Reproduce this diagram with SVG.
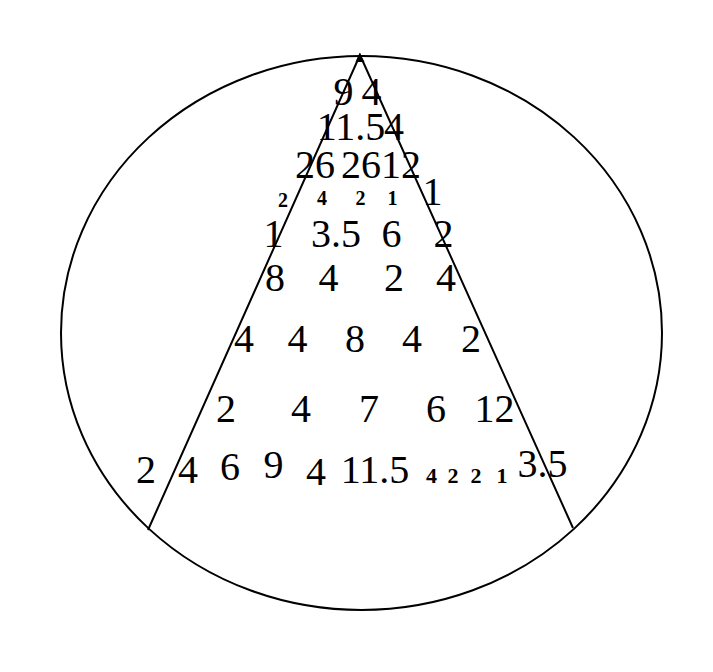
<svg xmlns="http://www.w3.org/2000/svg" width="713" height="672" viewBox="0 0 713 672">
<style>
.ln{fill:none;stroke:#000;stroke-width:2}
text{font-family:"Liberation Serif","Times New Roman",serif;fill:#000;text-anchor:middle}
.b{font-size:40px}
.s{font-size:20px;font-weight:bold}
.s2{font-size:22px;font-weight:bold}
</style>
<rect width="713" height="672" fill="#fff"/>
<g id="shapes">
<ellipse class="ln" cx="361.5" cy="333" rx="300.5" ry="277"/>
<polyline class="ln" points="148,530 360,55 573,528" stroke-linejoin="miter"/>
<polygon points="355.5,62 364.5,62 359.5,53" fill="#000"/>
</g>
<g id="labels">
<text class="b" x="343.5" y="105">9</text>
<text class="b" x="371.5" y="105">4</text>
<text class="b" x="351" y="140">11.5</text>
<text class="b" x="394" y="140">4</text>
<text class="b" x="315" y="178">26</text>
<text class="b" x="361" y="178">26</text>
<text class="b" x="401" y="178">12</text>
<text class="s" x="283" y="207">2</text>
<text class="s" x="322" y="205">4</text>
<text class="s" x="360.5" y="205">2</text>
<text class="s" x="392.5" y="205">1</text>
<text class="b" x="432.5" y="205">1</text>
<text class="b" x="273.5" y="247">1</text>
<text class="b" x="336" y="247">3.5</text>
<text class="b" x="391.5" y="247">6</text>
<text class="b" x="443.5" y="247">2</text>
<text class="b" x="275" y="291">8</text>
<text class="b" x="328.5" y="291">4</text>
<text class="b" x="394" y="291">2</text>
<text class="b" x="446" y="291">4</text>
<text class="b" x="244" y="352">4</text>
<text class="b" x="297.5" y="352">4</text>
<text class="b" x="355" y="352">8</text>
<text class="b" x="412" y="352">4</text>
<text class="b" x="471" y="352">2</text>
<text class="b" x="226" y="422">2</text>
<text class="b" x="301" y="422">4</text>
<text class="b" x="369" y="422">7</text>
<text class="b" x="436" y="422">6</text>
<text class="b" x="494.5" y="422">12</text>
<text class="b" x="146" y="483">2</text>
<text class="b" x="188" y="483">4</text>
<text class="b" x="230" y="480">6</text>
<text class="b" x="273.5" y="478">9</text>
<text class="b" x="316" y="485">4</text>
<text class="b" x="375" y="483">11.5</text>
<text class="s2" x="431.5" y="483">4</text>
<text class="s2" x="453" y="483">2</text>
<text class="s2" x="476" y="483">2</text>
<text class="s2" x="502" y="483">1</text>
<text class="b" x="542.5" y="477">3.5</text>
</g>
</svg>
